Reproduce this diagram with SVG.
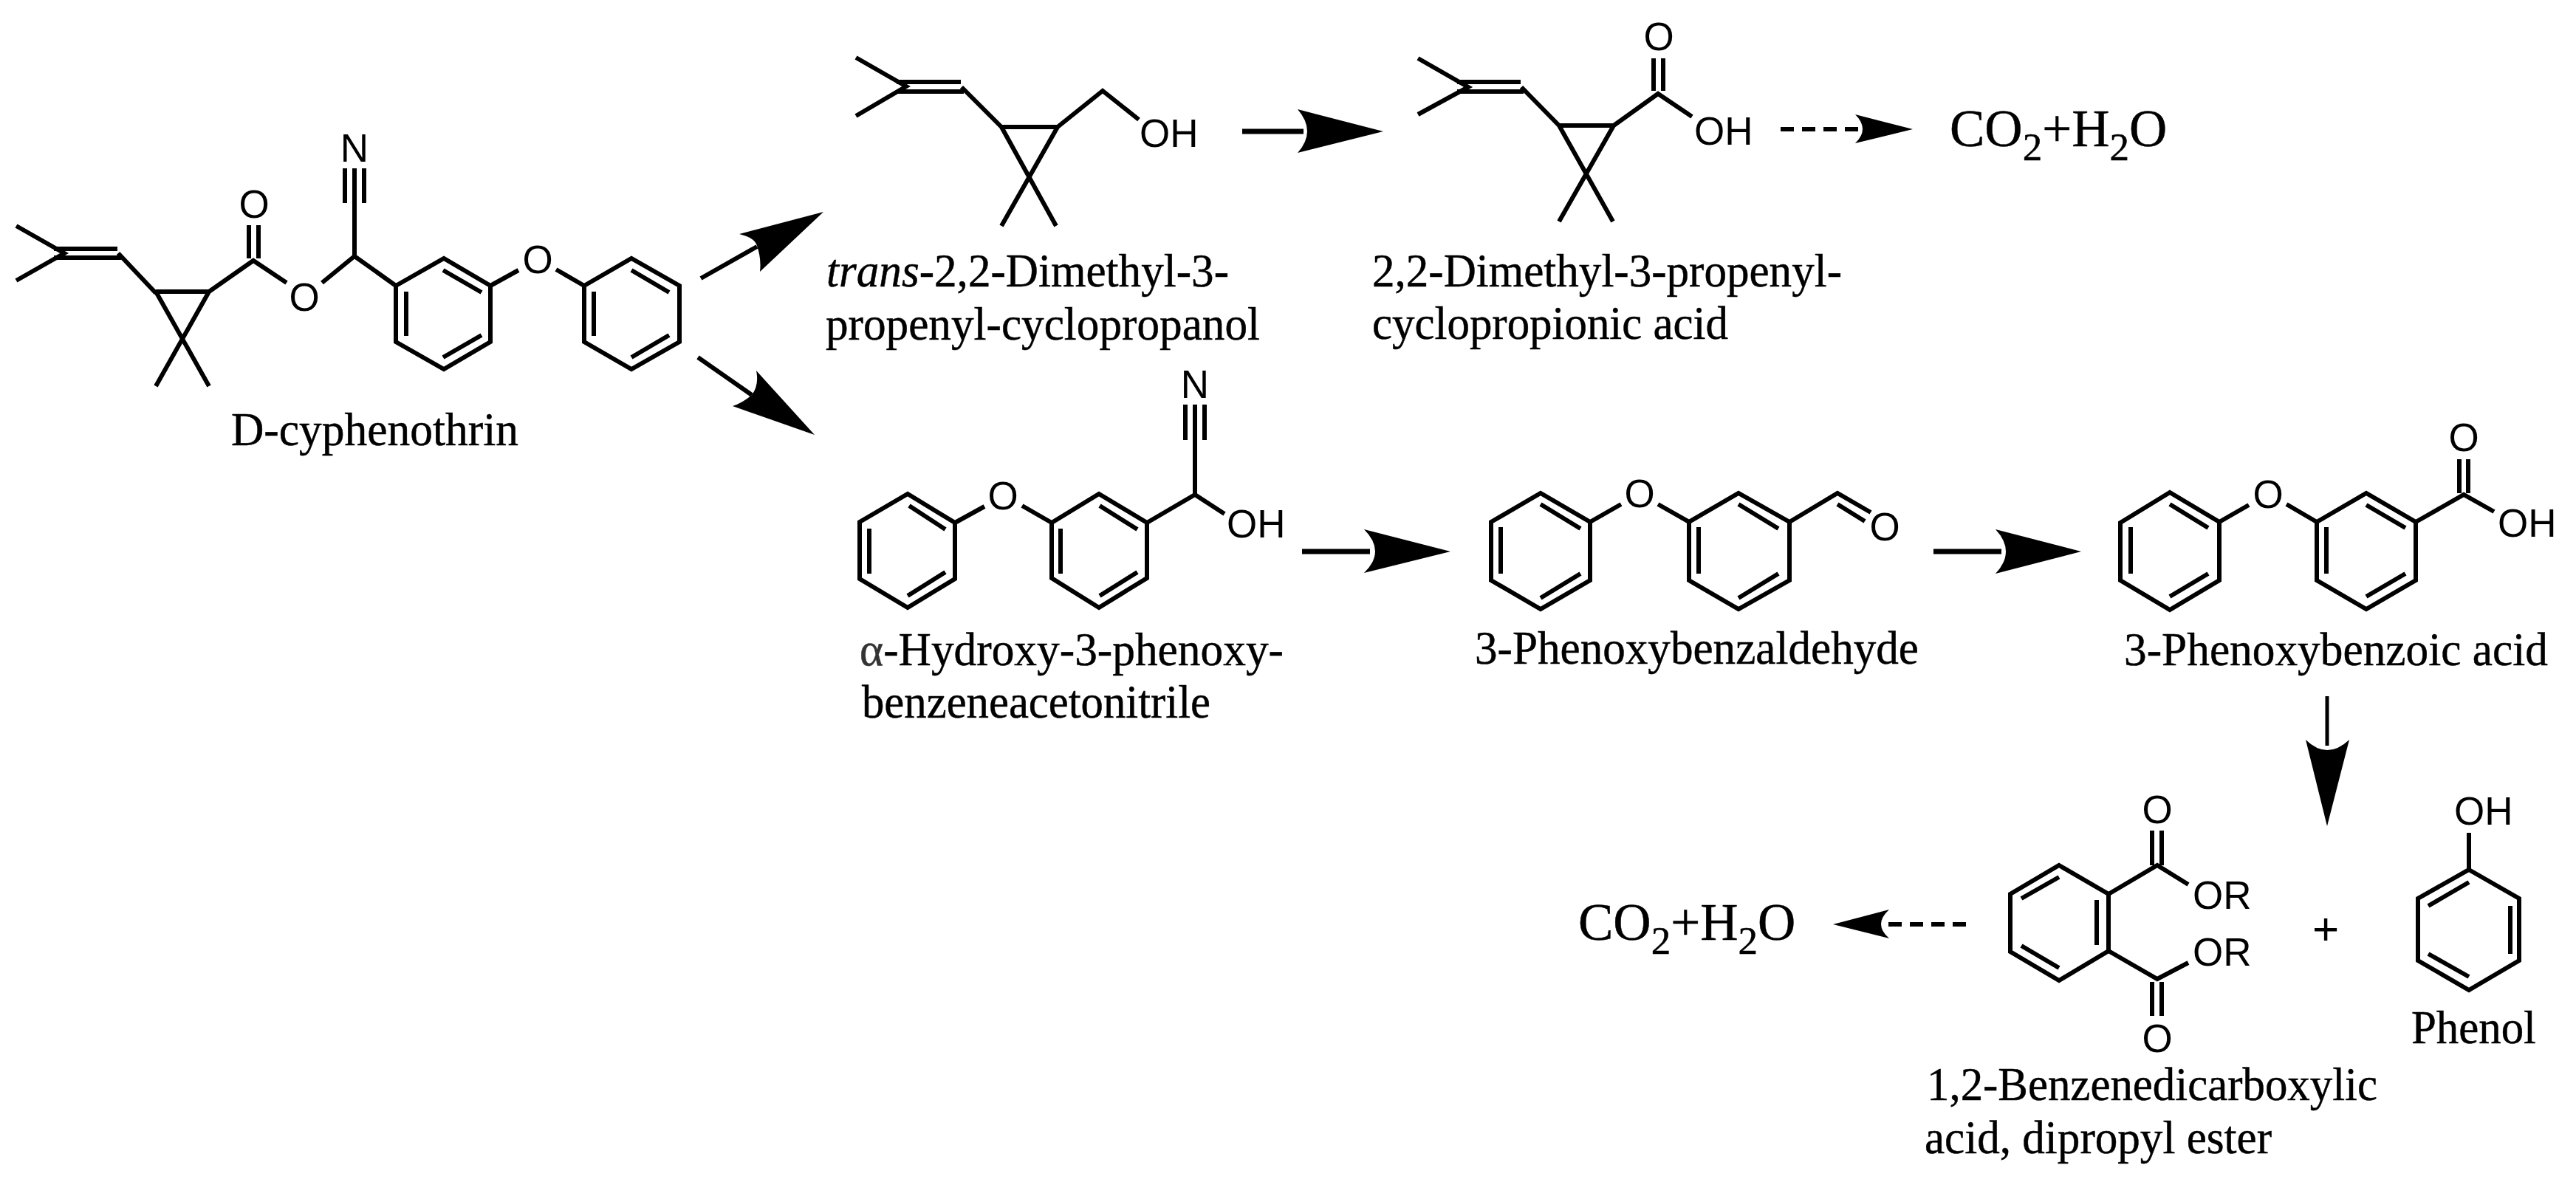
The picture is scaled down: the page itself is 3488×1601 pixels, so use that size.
<svg xmlns="http://www.w3.org/2000/svg" width="3488" height="1601" viewBox="0 0 3488 1601">
<style>
.b{fill:none;stroke:#000;stroke-width:6;stroke-linejoin:miter;stroke-linecap:butt}
.a{fill:none;stroke:#000;stroke-width:7}
.t{fill:none;stroke:#000;stroke-width:6}
.v{fill:none;stroke:#000;stroke-width:5}
.d{fill:none;stroke:#000;stroke-width:6;stroke-dasharray:18 11}
.h{fill:#000;stroke:none}
.at{font-family:"Liberation Sans",Arial,sans-serif;font-size:53px;fill:#000}
.m{text-anchor:middle}
.p{font-size:62px}
.c{font-family:"Liberation Serif","Times New Roman",serif;font-size:64px;fill:#000;stroke:#000;stroke-width:.5px}
.f{font-family:"Liberation Serif","Times New Roman",serif;font-size:71px;fill:#000;stroke:#000;stroke-width:.5px}
.s{font-size:53px}
</style>
<rect width="3488" height="1601" fill="#fff"/>
<g id="connectors">
<path class="t" d="M949,377L1025,334"/><path class="h" d="M1115,287L1001,317Q1022,322 1025,333Q1031,350 1029,368Z"/>
<path class="t" d="M945,484L1018,535"/><path class="h" d="M1103,589L1024,502Q1028,522 1018,535Q1005,546 992,550Z"/>
<path class="a" d="M1682,178H1765"/><path class="h" d="M1873,178L1757,148Q1783,178 1757,207Z"/>
<path class="d" d="M2411,175H2520"/><path class="h" d="M2590,175L2512,155Q2532,175 2512,194Z"/>
<path class="a" d="M1763,747H1855"/><path class="h" d="M1964,747L1847,717Q1877,747 1847,776Z"/>
<path class="a" d="M2618,747H2710"/><path class="h" d="M2818,747L2702,717Q2730,747 2702,777Z"/>
<path class="v" d="M3151,943V1010"/><path class="h" d="M3151,1119L3122,1002Q3151,1030 3181,1002Z"/>
<path class="d" d="M2662,1252H2540"/><path class="h" d="M2482,1252L2558,1232Q2536,1252 2558,1271Z"/>
</g>
<g id="d-cyphenothrin">
<path class="b" d="M22,306L87,343L22,380M73,337H159M73,349H164M160,343L211,397M211,395H283M211,395L283,523M283,395L211,523M283,395L343,353L388,383M337,305V350M350,305V350M436,383L480,347L536,387M467,228V275M480,228V347M493,228V275"/>
<path class="b" d="M536,387L601,350L664,387V463L601,500L536,463ZM600,366L652,396M550,395V455M652,454L600,484M664,387L702,366M753,365L791,387"/>
<path class="b" d="M791,387L855,350L920,387V463L855,500L791,463ZM855,366L906,396M804,395V455M906,454L855,484"/>
<text class="at m" x="344" y="295">O</text><text class="at m" x="412" y="421">O</text><text class="at m" x="480" y="219">N</text><text class="at m" x="728" y="370">O</text>
<text class="c" x="313" y="603" textLength="389" lengthAdjust="spacingAndGlyphs">D-cyphenothrin</text>
</g>
<g id="trans-alcohol">
<path class="b" d="M1159,78L1227,117L1159,157M1214,111H1301M1214,124H1305M1302,118L1356,172M1356,172H1432M1356,172L1430,306M1432,172L1356,306M1432,172L1493,123L1542,162"/>
<text class="at" x="1543" y="199">OH</text>
<text class="c" x="1119" y="388" textLength="545" lengthAdjust="spacingAndGlyphs"><tspan font-style="italic">trans</tspan>-2,2-Dimethyl-3-</text>
<text class="c" x="1118" y="460" textLength="588" lengthAdjust="spacingAndGlyphs">propenyl-cyclopropanol</text>
</g>
<g id="acid">
<path class="b" d="M1920,79L1988,118L1920,155M1973,111H2059M1973,124H2063M2060,118L2111,170M2111,170H2185M2111,170L2184,300M2185,170L2111,300M2185,170L2245,127L2291,158M2239,79V123M2252,79V123"/>
<text class="at m" x="2246" y="68">O</text><text class="at" x="2294" y="196">OH</text>
<text class="c" x="1858" y="388" textLength="636" lengthAdjust="spacingAndGlyphs">2,2-Dimethyl-3-propenyl-</text>
<text class="c" x="1858" y="459" textLength="482" lengthAdjust="spacingAndGlyphs">cyclopropionic acid</text>
</g>
<g id="co2-top"><text class="f" x="2640" y="198">CO<tspan class="s" dy="19">2</tspan><tspan dy="-19">+H</tspan><tspan class="s" dy="19">2</tspan><tspan dy="-19">O</tspan></text></g>
<g id="hydroxy-nitrile">
<path class="b" d="M1164,707L1229,669L1293,708V784L1229,823L1164,784ZM1231,685L1280,717M1177,716V777M1280,775L1229,807M1293,708L1333,686M1384,685L1424,708"/>
<path class="b" d="M1424,708L1488,669L1553,708V783L1488,823L1424,783ZM1489,685L1540,717M1436,716V777M1540,775L1489,807M1553,708L1618,670L1658,696M1618,670V548M1605,548V596M1631,548V596"/>
<text class="at m" x="1618" y="539">N</text><text class="at m" x="1358" y="690">O</text><text class="at" x="1661" y="728">OH</text>
<text class="c" x="1164" y="901" textLength="574" lengthAdjust="spacingAndGlyphs"><tspan fill="#333" stroke="#333">α</tspan>-Hydroxy-3-phenoxy-</text>
<text class="c" x="1167" y="972" textLength="472" lengthAdjust="spacingAndGlyphs">benzeneacetonitrile</text>
</g>
<g id="aldehyde">
<path class="b" d="M2019,707L2086,668L2153,707V786L2086,825L2019,786ZM2086,683L2140,716M2032,714V777M2140,777L2086,810M2153,707L2195,683M2245,683L2287,707"/>
<path class="b" d="M2287,707L2354,668L2423,707V786L2354,825L2287,786ZM2354,683L2408,716M2300,714V777M2408,777L2354,810M2423,707L2488,668L2533,694M2488,683L2525,706"/>
<text class="at m" x="2220" y="687">O</text><text class="at m" x="2552" y="732">O</text>
<text class="c" x="1997" y="899" textLength="601" lengthAdjust="spacingAndGlyphs">3-Phenoxybenzaldehyde</text>
</g>
<g id="benzoic-acid">
<path class="b" d="M2871,708L2938,667L3005,707V786L2938,826L2871,786ZM2938,683L2990,715M2885,714V777M2990,777L2938,808M3005,707L3045,684M3096,683L3137,707"/>
<path class="b" d="M3137,707L3204,668L3271,707V786L3204,825L3137,786ZM3204,684L3257,715M3150,714V777M3257,777L3204,808M3271,707L3336,670L3377,693M3330,622V668M3342,622V668"/>
<text class="at m" x="3071" y="688">O</text><text class="at m" x="3336" y="611">O</text><text class="at" x="3382" y="727">OH</text>
<text class="c" x="2876" y="901" textLength="574" lengthAdjust="spacingAndGlyphs">3-Phenoxybenzoic acid</text>
</g>
<g id="phthalate">
<path class="b" d="M2788,1172L2855,1211V1288L2788,1328L2722,1289V1211ZM2788,1188L2737,1217M2839,1219V1280M2737,1281L2788,1311M2855,1211L2921,1172L2963,1198M2855,1288L2921,1326L2963,1304M2914,1125V1172M2927,1125V1172M2914,1330V1376M2927,1330V1376"/>
<text class="at m" x="2921" y="1115">O</text><text class="at" x="2969" y="1231">OR</text><text class="at" x="2969" y="1308">OR</text><text class="at m" x="2921" y="1425">O</text>
<text class="c" x="2609" y="1490" textLength="610" lengthAdjust="spacingAndGlyphs">1,2-Benzenedicarboxylic</text>
<text class="c" x="2606" y="1562" textLength="470" lengthAdjust="spacingAndGlyphs">acid, dipropyl ester</text>
</g>
<g id="plus"><text class="at m p" x="3149" y="1279">+</text></g>
<g id="phenol">
<path class="b" d="M3343,1178L3411,1217V1301L3343,1341L3274,1301V1217ZM3343,1195L3288,1227M3399,1227V1292M3288,1292L3343,1323M3343,1178V1128"/>
<text class="at" x="3323" y="1117">OH</text>
<text class="c" x="3265" y="1413" textLength="169" lengthAdjust="spacingAndGlyphs">Phenol</text>
</g>
<g id="co2-bottom"><text class="f" x="2137" y="1273">CO<tspan class="s" dy="19">2</tspan><tspan dy="-19">+H</tspan><tspan class="s" dy="19">2</tspan><tspan dy="-19">O</tspan></text></g>
</svg>
